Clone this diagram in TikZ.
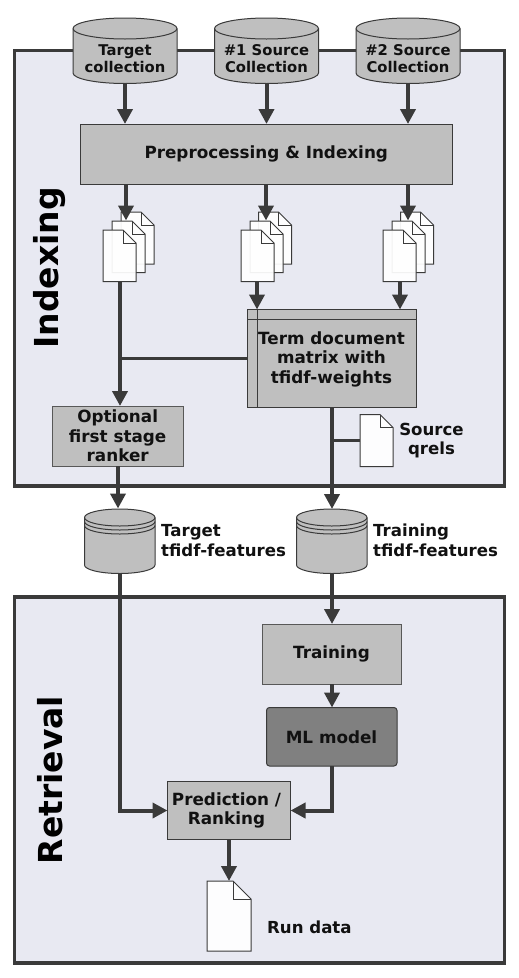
\documentclass[tikz,border=0pt]{standalone}
\usepackage{fontspec}
\setmainfont{DejaVu Sans}[BoldFont={DejaVu Sans Bold}]
\usetikzlibrary{arrows.meta}
\definecolor{bgpanel}{HTML}{E8E9F2}
\definecolor{boxgrey}{HTML}{BFBFBF}
\definecolor{mlgrey}{HTML}{808080}
\definecolor{linedark}{HTML}{3A3A3A}
\definecolor{textdark}{HTML}{111111}
\tikzset{
  panel/.style={draw=linedark,line width=3.5pt,fill=bgpanel},
  procbox/.style={draw=linedark,line width=1pt,fill=boxgrey,inner sep=0pt,outer sep=0pt,align=center,anchor=north west,text=textdark},
  anchorbox/.style={inner sep=0pt,outer sep=0pt,anchor=north west},
  flow/.style={draw=linedark,line width=4pt,-{Triangle[length=15pt,width=15pt]}},
  plainline/.style={draw=linedark,line width=3.5pt},
  shapeline/.style={draw=linedark,line width=1pt},
  lbl/.style={font=\fontsize{16.6}{19.5}\selectfont\bfseries,text=textdark,align=left,inner sep=0pt},
  boxlbl/.style={font=\fontsize{16.8}{19.5}\selectfont\bfseries,text=textdark,align=center,inner sep=0pt},
  cyllbl/.style={font=\fontsize{14.8}{17}\selectfont\bfseries,text=textdark,align=center,inner sep=0pt},
  sidelbl/.style={font=\fontsize{33}{33}\selectfont\bfseries,text=black,rotate=90,inner sep=0pt},
}
% name, x, y, w, h, fold
\newcommand{\docpage}[6]{%
  \begin{scope}[shift={(#2,#3)}]
    \filldraw[shapeline,fill=white,fill opacity=0.93] (0,0) -- (#4-#6,0) -- (#4,#6) -- (#4,#5) -- (0,#5) -- cycle;
    \draw[shapeline,line width=.8pt] (#4-#6,0) -- (#4-#6,#6) -- (#4,#6);
    \node[anchorbox,minimum width=#4pt,minimum height=#5pt] (#1) at (0,0) {};
  \end{scope}}
% name, x, y, w, h, ry
\newcommand{\dbshape}[6]{%
  \begin{scope}[shift={(#2,#3)}]
    \filldraw[shapeline,fill=boxgrey] (0,#6) -- (0,#5-#6) arc[start angle=180,end angle=360,x radius=#4/2*1pt,y radius=#6*1pt] -- (#4,#6) arc[start angle=0,end angle=180,x radius=#4/2*1pt,y radius=#6*1pt] -- cycle;
    \draw[shapeline] (0,#6) arc[start angle=180,end angle=360,x radius=#4/2*1pt,y radius=#6*1pt];
    \node[anchorbox,minimum width=#4pt,minimum height=#5pt] (#1) at (0,0) {};
  \end{scope}}
\begin{document}
\begin{tikzpicture}[x=1pt,y=-1pt]
\useasboundingbox (0,0) rectangle (519,978);
% panels
\draw[panel] (14.5,50.5) rectangle (504.5,486);
\draw[panel] (14.5,597) rectangle (504.5,963);
\node[sidelbl] (idx) at (50,268) {Indexing};
\node[sidelbl] (ret) at (50,780) {Retrieval};
% source collections
\dbshape{tc}{73}{18}{104}{65.5}{10.5}
\dbshape{sa}{214.5}{18}{104}{65.5}{10.5}
\dbshape{sb}{356}{18}{104}{65.5}{10.5}
\node[cyllbl] (tct) at (125,58.5) {Target\\collection};
\node[cyllbl] (sat) at (266.5,58.5) {\#1 Source\\Collection};
\node[cyllbl] (sbt) at (408,58.5) {\#2 Source\\Collection};
% preprocessing
\node[procbox,minimum width=372.5pt,minimum height=60pt,font=\fontsize{16.8}{19.5}\selectfont\bfseries] (prep) at (80,124) {Preprocessing \& Indexing};
% document stacks
\docpage{da3}{121}{212}{33}{52}{13}
\docpage{da2}{112}{221}{33}{51.5}{13}
\docpage{da1}{103}{230}{33}{51.5}{13}
\docpage{db3}{258.5}{212}{33}{52}{13}
\docpage{db2}{250}{221}{33}{51.5}{13}
\docpage{db1}{241}{230}{33}{51.5}{13}
\docpage{dc3}{400.5}{212}{33}{52}{13}
\docpage{dc2}{392}{221}{33}{51.5}{13}
\docpage{dc1}{383}{230}{33}{51.5}{13}
% matrix
\node[procbox,minimum width=168.5pt,minimum height=98pt] (mat) at (247.5,309.5) {};
\draw[shapeline] (247.5,319) -- (416,319);
\draw[shapeline] (257,309.5) -- (257,407.5);
\node[boxlbl] (matt) at (331.5,359) {Term document\\matrix with\\tfidf-weights};
% optional ranker
\node[procbox,minimum width=130.5pt,minimum height=60pt,draw=linedark!85] (opt) at (52.5,406) {};
\node[boxlbl] (optt) at (117.7,436) {Optional\\first stage\\ranker};
% source qrels
\docpage{qr}{360}{414.5}{33}{52}{13}
\node[lbl,align=center] (qrt) at (431.5,440.5) {Source\\qrels};
% feature stores
\dbshape{ft}{84.5}{509}{70.5}{64.5}{8.5}
\dbshape{fr}{296.5}{509}{70.5}{64.5}{8.5}
\foreach \fx in {84.5,296.5}{
  \foreach \fy in {521.5,525.5}{
    \draw[shapeline] (\fx,\fy) arc[start angle=180,end angle=360,x radius=35.25pt,y radius=8.5pt];
  }
}
\node[lbl,anchor=west] (ftt) at (161,540.5) {Target\\tfidf-features};
\node[lbl,anchor=west] (frt) at (373,540.5) {Training\\tfidf-features};
% retrieval boxes
\node[procbox,minimum width=139pt,minimum height=60pt,draw=linedark!85] (train) at (262,624) {};
\node[boxlbl] (traint) at (331.5,654) {Training};
\node[procbox,minimum width=130.5pt,minimum height=58.5pt,fill=mlgrey,rounded corners=3pt] (ml) at (266.5,707.5) {};
\node[boxlbl] (mlt) at (331.5,737) {ML model};
\node[procbox,minimum width=123pt,minimum height=58.5pt] (pred) at (167.5,781) {};
\node[boxlbl] (predt) at (226.5,810.5) {Prediction /\\Ranking};
\docpage{run}{207}{881}{44}{70}{18}
\node[lbl,anchor=west] (runt) at (267,927) {Run data};
% helper coordinates
\coordinate (opttop) at (120,406);
\coordinate (da1out) at (120,281.5);
\coordinate (db1out) at (257,281.5);
\coordinate (dc1out) at (400,281.5);
\coordinate (matout) at (332,407.5);
\coordinate (prlft) at (167.5,810.5);
\coordinate (prrgt) at (290.5,810.5);
% connectors
\draw[flow] (tc.south) -- (tc.south |- prep.north);
\draw[flow] (sa.south) -- (sa.south |- prep.north);
\draw[flow] (sb.south) -- (sb.south |- prep.north);
\draw[flow] (prep.south -| 126,0) -- (126,220.5);
\draw[flow] (prep.south) ++(-0.25,0) -- ++(0,36.5);
\draw[flow] (prep.south -| 408,0) -- (408,220.5);
\draw[flow] (da1out) -- (opttop);
\draw[flow] (db1out) -- (db1out |- mat.north);
\draw[flow] (dc1out) -- (dc1out |- mat.north);
\draw[plainline] (mat.west) -- (mat.west -| da1out);
\draw[plainline] (qr.west) -- (qr.west -| matout);
\draw[flow] (matout) -- (matout |- fr.north);
\draw[flow] (opt.south -| 118,0) -- (118,508.5);
\draw[flow] (fr.south -| matout) -- (matout |- train.north);
\draw[flow] (train.south -| matout) -- (matout |- ml.north);
\draw[flow] (ft.south) -- (ft.south |- prlft) -- (prlft);
\draw[flow] (ml.south -| matout) -- (matout |- prrgt) -- (prrgt);
\draw[flow] (pred.south -| run.north) -- (run.north);
\end{tikzpicture}
\end{document}
